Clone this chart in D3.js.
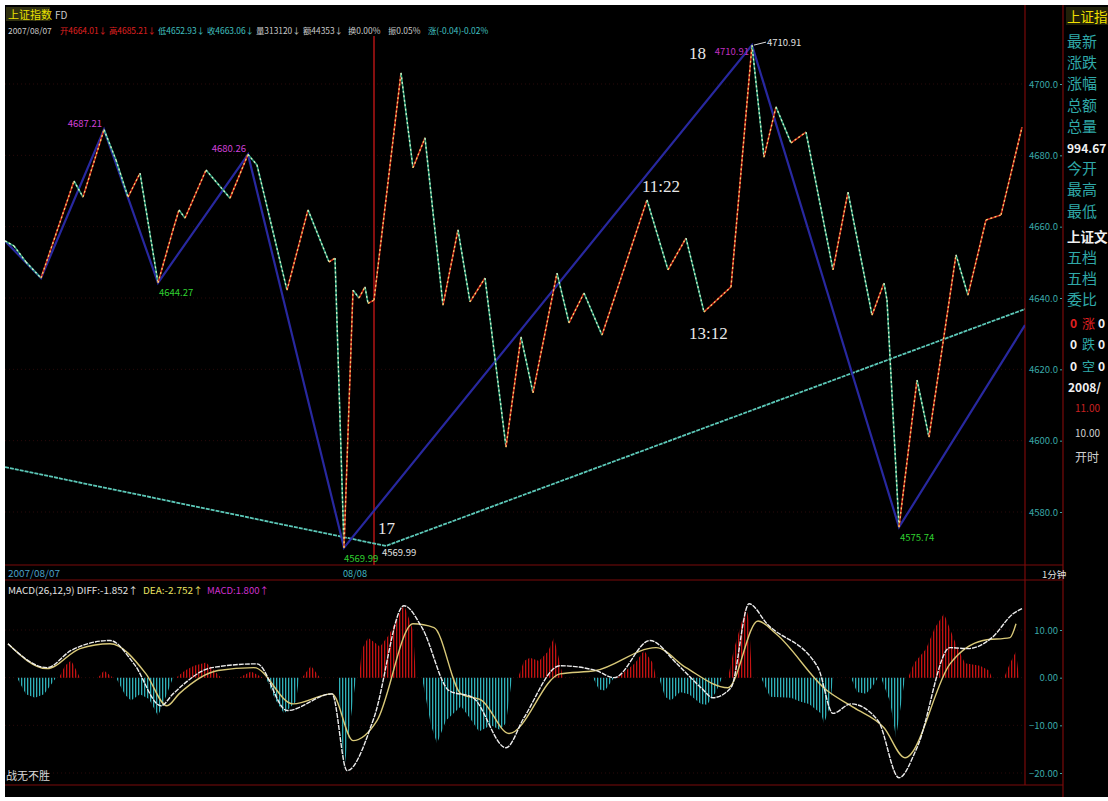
<!DOCTYPE html>
<html><head><meta charset="utf-8">
<script src="https://cdn.jsdelivr.net/npm/d3@7"></script>
<style>body{margin:0;background:#fff;}svg{display:block}</style>
</head><body><svg id="c" width="1108" height="801"></svg>
<script>
// ---------- data ----------
const priceT = [0,3,7,12,23,26,33,37,41,45,51,56,58,60,67,75,81,84,94,101,108,110,113,116,118,120,121,123,132,136,140,146,151,155,160,167,172,176,184,188,193,199,214,221,227,233,242,249,253,257,262,267,276,281,289,293,294,298,304,308,317,321,327,332,339];
const priceV = [4656.0,4654.6,4650.1,4645.6,4672.8,4668.3,4687.21,4678.7,4668.3,4675.0,4644.27,4659.1,4664.7,4662.4,4675.9,4668.0,4680.26,4677.3,4642.2,4664.7,4650.1,4651.2,4569.99,4642.2,4640.0,4643.1,4638.5,4639.4,4703.1,4676.5,4684.9,4638.0,4659.1,4638.9,4645.6,4598.2,4629.1,4613.4,4647.0,4633.0,4641.4,4629.6,4667.5,4647.9,4656.8,4636.1,4643.1,4710.91,4679.5,4693.6,4683.5,4686.5,4647.9,4669.7,4635.2,4644.2,4639.4,4575.74,4617.0,4601.0,4652.1,4640.8,4661.9,4663.3,4687.9];
const zigT = [0,12,33,51,81,113,249,298,340];
const zigV = [4656.0,4645.6,4687.21,4644.27,4680.26,4569.99,4710.91,4575.74,4632.4];
const trendT = [0,127,340];
const trendV = [4592.6,4570.5,4636.9];
const priceTicks = [4580,4600,4620,4640,4660,4680,4700];
const daySplitT = 123;

const diffT = [1,14,22,35,43,52,56,69,84,94,109,114,123,133,139,148,156,167,173,185,197,203,215,224,232,236,242,248,254,271,276,282,291,298,304,315,321,329,336,339];
const diffV = [7.1,2.1,5.7,7.8,2.9,-5.9,-3.4,2.1,2.9,-6.9,-3.4,-19.5,-8.4,15.1,10.5,-2.7,-4.2,-14.7,-8.4,2.5,1.5,0,7.8,2.9,-2.1,-4.2,-2.1,15.5,11.3,2.1,-7.5,-5.5,-9.0,-21.0,-14.7,6.3,6.1,8.4,13.4,14.5];
const deaT = [1,14,25,35,47,54,58,71,83,96,109,116,124,136,143,152,159,168,185,197,217,227,241,251,257,274,283,293,300,315,326,335,337];
const deaV = [7.1,1.9,6.1,7.1,0.8,-5.9,-3.4,1.5,2.1,-5.5,-3.4,-13.2,-9.0,11.3,10.5,-3.4,-4.8,-11.7,0.8,1.5,6.3,2.1,-2.1,11.9,9.2,-2.7,-6.3,-10.5,-16.8,2.9,7.8,8.4,11.3];
const histT = [4,7,10,13,17,18,20,22,23,25,31,33,36,37,40,42,45,48,51,53,56,57,60,63,67,69,72,78,82,86,87,90,93,97,98,99,102,105,111,113,117,118,119,121,123,125,128,133,136,137,139,142,144,147,152,155,158,162,165,167,169,171,173,175,178,181,183,185,186,196,198,200,203,204,207,210,213,216,217,218,220,222,225,228,232,234,237,239,241,243,247,248,249,252,255,262,265,268,272,273,275,276,282,284,287,289,291,292,295,297,300,301,303,307,310,313,317,320,325,328,329,333,335,337,338];
const histV = [0,-3.5,-4.2,-3.5,0,0,2.5,3.6,2.5,0,0,1.5,0,0,-3.6,-4.8,-3.5,-4.5,-8.0,-5,0,0,1.5,2.5,3.2,2.0,0,0,1.3,0,0,-4.5,-7.5,-5,0,0,2.5,0,0,-19.5,0,0,6,8.4,7.5,6.5,9,15.3,10,0,0,-10,-13.8,-9,-6,-8.5,-11.3,-10,-11,-9.5,0,0,3.5,4.2,3.5,5.5,8.4,3,0,0,-2.5,-2.7,0,0,1.5,3,5.7,3,0,0,-4,-4.8,-3,-3.5,-5.5,-5.7,-3,0,0,6,14.8,12,0,0,-4,-4.2,-5,-5.5,-7.5,-9.6,-6,0,0,-3,-3.4,-2,0,0,-5,-12.6,0,0,3,6,10.5,13.4,7,3,2.5,1.5,0,0,3,5.5,0];
const macdTicks = [10,0,-10,-20];

const sideLabels = ["最新","涨跌","涨幅","总额","总量","994.67","今开","最高","最低","上证文","五档","五档","委比"];

// ---------- scales ----------
const svg = d3.select("#c");
const FONT = "'Noto Sans CJK SC','DejaVu Sans',sans-serif";
svg.append("rect").attr("x",5).attr("y",5).attr("width",1103).attr("height",792).attr("fill","#000");

const x = d3.scaleLinear().domain([0,340]).range([5,1025]);
const yP = d3.scaleLinear().domain([4580,4700]).range([512,84]);
const yM = d3.scaleLinear().domain([-20,10]).range([773,630]);

const defs = svg.append("defs");
defs.append("clipPath").attr("id","mainClip").append("rect").attr("x",5).attr("y",36).attr("width",1020).attr("height",529);
defs.append("clipPath").attr("id","macdClip").append("rect").attr("x",5).attr("y",596).attr("width",1020).attr("height",189);
function stripe(id,color){
  const p = defs.append("pattern").attr("id",id).attr("patternUnits","userSpaceOnUse").attr("width",3).attr("height",10);
  p.append("rect").attr("x",0).attr("y",0).attr("width",1.3).attr("height",10).attr("fill",color);
}
stripe("redStripe","#c41212");
stripe("tealStripe","#2fb0b8");

// ---------- frame ----------
const frame = svg.append("g").attr("stroke","#7a0a0a").attr("stroke-width",1.2);
[[1025,5,1025,785],[1063,5,1063,797],[5,565,1063,565],[5,580,1063,580],[5,785,1063,785]].forEach(l=>{
  frame.append("line").attr("x1",l[0]).attr("y1",l[1]).attr("x2",l[2]).attr("y2",l[3]);
});

const grid = svg.append("g").attr("stroke","#2a0a0a").attr("stroke-dasharray","1,3");
priceTicks.forEach(v=>grid.append("line").attr("x1",5).attr("x2",1025).attr("y1",yP(v)).attr("y2",yP(v)));
macdTicks.forEach(v=>grid.append("line").attr("x1",5).attr("x2",1025).attr("y1",yM(v)).attr("y2",yM(v)));

// ---------- main chart ----------
const main = svg.append("g").attr("clip-path","url(#mainClip)");
main.append("line").attr("x1",x(daySplitT)).attr("x2",x(daySplitT)).attr("y1",36).attr("y2",565)
  .attr("stroke","#b01414").attr("stroke-width",1.5);

const lineP = d3.line().x(d=>x(d[0])).y(d=>yP(d[1]));
main.append("path").attr("d",lineP(d3.zip(trendT,trendV))).attr("fill","none")
  .attr("stroke","#5cc8b8").attr("stroke-width",1.8).attr("stroke-dasharray","4,1");
main.append("path").attr("d",lineP(d3.zip(zigT,zigV))).attr("fill","none")
  .attr("stroke","#2a2aa8").attr("stroke-width",2.2).attr("opacity",0.95);
const pts = d3.zip(priceT,priceV);
for(let i=0;i<pts.length-1;i++){
  const up = pts[i+1][1] >= pts[i][1];
  const seg = [pts[i],pts[i+1]];
  main.append("path").attr("d",lineP(seg)).attr("fill","none")
    .attr("stroke", up ? "#c82818" : "#2a9a78").attr("stroke-width",1.6);
  main.append("path").attr("d",lineP(seg)).attr("fill","none")
    .attr("stroke", up ? "#f6d070" : "#d8f4c8").attr("stroke-width",1.3).attr("stroke-dasharray","2,2.5");
}

function lbl(g,txt,xx,yy,color,size,anchor,fam){
  return g.append("text").attr("x",xx).attr("y",yy).text(txt).attr("fill",color)
    .attr("font-size",size).attr("font-family",fam||FONT).attr("text-anchor",anchor||"start");
}
lbl(svg,"4687.21",x(33)-2,yP(4687.21)-3,"#d040d8",9.5,"end");
lbl(svg,"4680.26",x(81)-2,yP(4680.26)-2,"#d040d8",9.5,"end");
lbl(svg,"4644.27",x(51)+1,yP(4644.27)+13,"#30d030",9.5);
lbl(svg,"4575.74",x(298)+1,yP(4575.74)+14,"#30d030",9.5);
lbl(svg,"4569.99",x(113)+38,yP(4569.99)+8,"#e0e0e0",9.5);
lbl(svg,"4569.99",x(113),yP(4569.99)+14,"#30d030",9.5);
lbl(svg,"4710.91",x(249)-3,yP(4710.91)+10,"#c030c0",9.5,"end");
svg.append("line").attr("x1",x(249)+2).attr("y1",yP(4710.91)).attr("x2",x(249)+14).attr("y2",yP(4710.91)-3).attr("stroke","#ddd");
lbl(svg,"4710.91",x(249)+15,yP(4710.91)+1,"#e0e0e0",9.5);
const SERIF = "'Liberation Serif','DejaVu Serif',serif";
lbl(svg,"18",689,59,"#e8e8e8",17,"start",SERIF);
lbl(svg,"17",378,534,"#e8e8e8",17,"start",SERIF);
lbl(svg,"11:22",642,192,"#e8e8e8",17,"start",SERIF);
lbl(svg,"13:12",689,339,"#e8e8e8",17,"start",SERIF);

const pAxis = svg.append("g").attr("transform","translate(1062,0)")
  .call(d3.axisLeft(yP).tickValues(priceTicks).tickFormat(d3.format(".1f")).tickSize(2).tickPadding(2));
pAxis.select(".domain").remove();
pAxis.selectAll("line").attr("stroke","#3aa8a8");
pAxis.selectAll("text").attr("fill","#3aa8a8").attr("font-size",9.5).attr("font-family",FONT);

// ---------- header ----------
svg.append("rect").attr("x",6).attr("y",7).attr("width",44).attr("height",14).attr("fill","#303010");
lbl(svg,"上证指数",8,19,"#e8e000",11);
lbl(svg,"FD",55,19,"#c8c8c8",10);
const head = [["2007/08/07",8,"#c8c8c8"],["开4664.01↓",60,"#e02020"],["高4685.21↓",109,"#e02020"],
  ["低4652.93↓",158,"#40c0c0"],["收4663.06↓",207,"#40c0c0"],["量313120↓",256,"#c8c8c8"],
  ["额44353↓",303,"#c8c8c8"],["换0.00%",348,"#c8c8c8"],["振0.05%",388,"#c8c8c8"],["涨(-0.04)-0.02%",428,"#40c0c0"]];
head.forEach(h=>lbl(svg,h[0],h[1],34,h[2],8.4));

// ---------- MACD ----------
lbl(svg,"2007/08/07",8,577,"#4aa0c8",9.5).attr("textLength",52).attr("lengthAdjust","spacingAndGlyphs");
lbl(svg,"08/08",343,577,"#40b8c0",9.5).attr("textLength",24).attr("lengthAdjust","spacingAndGlyphs");
lbl(svg,"1分钟",1042,578,"#e0e0e0",9.5);
lbl(svg,"MACD(26,12,9) DIFF:-1.852↑",8,594,"#e0e0e0",9.5).attr("textLength",130).attr("lengthAdjust","spacingAndGlyphs");
lbl(svg,"DEA:-2.752↑",143,594,"#e8e060",9.5).attr("textLength",60).attr("lengthAdjust","spacingAndGlyphs");
lbl(svg,"MACD:1.800↑",207,594,"#d030d0",9.5).attr("textLength",62).attr("lengthAdjust","spacingAndGlyphs");

const mg = svg.append("g").attr("clip-path","url(#macdClip)");
const hist = d3.zip(histT,histV);
mg.append("path").attr("d",d3.area().x(d=>x(d[0])).y0(yM(0)).y1(d=>yM(Math.max(d[1],0)))(hist)).attr("fill","url(#redStripe)");
mg.append("path").attr("d",d3.area().x(d=>x(d[0])).y0(yM(0)).y1(d=>yM(Math.min(d[1],0)))(hist)).attr("fill","url(#tealStripe)");
const lineM = d3.line().x(d=>x(d[0])).y(d=>yM(d[1])).curve(d3.curveMonotoneX);
mg.append("path").attr("d",lineM(d3.zip(deaT,deaV))).attr("fill","none").attr("stroke","#d8c878").attr("stroke-width",1.4);
mg.append("path").attr("d",lineM(d3.zip(diffT,diffV))).attr("fill","none").attr("stroke","#ececec").attr("stroke-width",1.4).attr("stroke-dasharray","5,1");

const mAxis = svg.append("g").attr("transform","translate(1062,0)")
  .call(d3.axisLeft(yM).tickValues(macdTicks).tickFormat(d3.format(".2f")).tickSize(2).tickPadding(2));
mAxis.select(".domain").remove();
mAxis.selectAll("line").attr("stroke","#3aa8a8");
mAxis.selectAll("text").attr("fill","#3aa8a8").attr("font-size",9.5).attr("font-family",FONT);

lbl(svg,"战无不胜",6,780,"#d8d8d8",11);

// ---------- side panel ----------
svg.append("rect").attr("x",1066).attr("y",7).attr("width",42).attr("height",18).attr("fill","#202008");
lbl(svg,"上证指",1067,22,"#f0e000",13.5);
sideLabels.forEach((s,i)=>{
  const yy = 47 + i*21.2 + (i>=9?4:0);
  const white = (s==="994.67"||s==="上证文");
  const fs = s==="994.67" ? 12 : (s==="上证文" ? 13.5 : 15);
  lbl(svg,s,1067,yy,white?"#f0f0f0":"#2fa8a8",fs).attr("font-weight",white?"bold":"normal");
});
[["0","涨","0",328],["0","跌","0",349],["0","空","0",371]].forEach((r,i)=>{
  lbl(svg,r[0],1070,r[3],i===0?"#e02020":"#f0f0f0",12).attr("font-weight","bold");
  lbl(svg,r[1],1082,r[3],i===0?"#e02020":"#2fa8a8",13);
  lbl(svg,r[2],1098,r[3],"#f0f0f0",12).attr("font-weight","bold");
});
lbl(svg,"2008/",1068,392,"#f0f0f0",12).attr("font-weight","bold");
lbl(svg,"11.00",1075,412,"#c82020",10);
lbl(svg,"10.00",1075,437,"#d0d0d0",10);
lbl(svg,"开时",1075,462,"#d0d0d0",12);
</script></body></html>
